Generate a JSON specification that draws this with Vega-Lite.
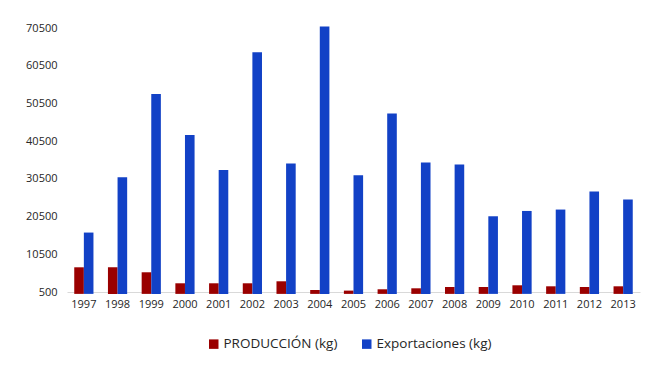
{
  "$schema": "https://vega.github.io/schema/vega-lite/v6.json",
  "width": 573,
  "height": 264,
  "autosize": {"type": "none"},
  "padding": {"left": 67, "top": 28, "right": 31, "bottom": 79},
  "background": "white",
  "data": {
    "values": [
      {"year": "1997", "serie": "PRODUCCIÓN (kg)", "kg": 7050},
      {"year": "1998", "serie": "PRODUCCIÓN (kg)", "kg": 7050},
      {"year": "1999", "serie": "PRODUCCIÓN (kg)", "kg": 5730},
      {"year": "2000", "serie": "PRODUCCIÓN (kg)", "kg": 2810},
      {"year": "2001", "serie": "PRODUCCIÓN (kg)", "kg": 2810},
      {"year": "2002", "serie": "PRODUCCIÓN (kg)", "kg": 2810},
      {"year": "2003", "serie": "PRODUCCIÓN (kg)", "kg": 3340},
      {"year": "2004", "serie": "PRODUCCIÓN (kg)", "kg": 1030},
      {"year": "2005", "serie": "PRODUCCIÓN (kg)", "kg": 870},
      {"year": "2006", "serie": "PRODUCCIÓN (kg)", "kg": 1220},
      {"year": "2007", "serie": "PRODUCCIÓN (kg)", "kg": 1480},
      {"year": "2008", "serie": "PRODUCCIÓN (kg)", "kg": 1830},
      {"year": "2009", "serie": "PRODUCCIÓN (kg)", "kg": 1830},
      {"year": "2010", "serie": "PRODUCCIÓN (kg)", "kg": 2280},
      {"year": "2011", "serie": "PRODUCCIÓN (kg)", "kg": 2010},
      {"year": "2012", "serie": "PRODUCCIÓN (kg)", "kg": 1830},
      {"year": "2013", "serie": "PRODUCCIÓN (kg)", "kg": 2010},
      {"year": "1997", "serie": "Exportaciones (kg)", "kg": 16260},
      {"year": "1998", "serie": "Exportaciones (kg)", "kg": 30920},
      {"year": "1999", "serie": "Exportaciones (kg)", "kg": 53020},
      {"year": "2000", "serie": "Exportaciones (kg)", "kg": 42140},
      {"year": "2001", "serie": "Exportaciones (kg)", "kg": 32860},
      {"year": "2002", "serie": "Exportaciones (kg)", "kg": 64080},
      {"year": "2003", "serie": "Exportaciones (kg)", "kg": 34560},
      {"year": "2004", "serie": "Exportaciones (kg)", "kg": 70900},
      {"year": "2005", "serie": "Exportaciones (kg)", "kg": 31450},
      {"year": "2006", "serie": "Exportaciones (kg)", "kg": 47820},
      {"year": "2007", "serie": "Exportaciones (kg)", "kg": 34820},
      {"year": "2008", "serie": "Exportaciones (kg)", "kg": 34290},
      {"year": "2009", "serie": "Exportaciones (kg)", "kg": 20580},
      {"year": "2010", "serie": "Exportaciones (kg)", "kg": 21990},
      {"year": "2011", "serie": "Exportaciones (kg)", "kg": 22360},
      {"year": "2012", "serie": "Exportaciones (kg)", "kg": 27130},
      {"year": "2013", "serie": "Exportaciones (kg)", "kg": 25010}
    ]
  },
  "mark": {"type": "bar", "clip": false},
  "encoding": {
    "x": {
      "field": "year",
      "type": "nominal",
      "title": null,
      "scale": {"paddingInner": 0.43, "paddingOuter": 0.215},
      "axis": {
        "labelAngle": 0,
        "labelFont": "Open Sans",
        "labelFontSize": 11,
        "labelColor": "#262626",
        "labelPadding": 6,
        "ticks": false,
        "domainColor": "#d9d9d9",
        "domainWidth": 1
      }
    },
    "xOffset": {"field": "serie", "type": "nominal", "sort": ["PRODUCCIÓN (kg)", "Exportaciones (kg)"], "scale": {"paddingInner": 0, "paddingOuter": 0}},
    "y": {
      "field": "kg",
      "type": "quantitative",
      "title": null,
      "scale": {"domain": [500, 70500], "nice": false, "zero": false},
      "axis": {
        "values": [500, 10500, 20500, 30500, 40500, 50500, 60500, 70500],
        "format": "d",
        "domain": false,
        "ticks": false,
        "grid": false,
        "labelFont": "Open Sans",
        "labelFontSize": 11,
        "labelColor": "#262626",
        "labelPadding": 10
      }
    },
    "color": {
      "field": "serie",
      "type": "nominal",
      "sort": ["PRODUCCIÓN (kg)", "Exportaciones (kg)"],
      "scale": {"domain": ["PRODUCCIÓN (kg)", "Exportaciones (kg)"], "range": ["#9a0000", "#1241c6"]},
      "legend": {
        "title": null,
        "orient": "none",
        "direction": "horizontal",
        "legendX": 140,
        "legendY": 309,
        "symbolType": "square",
        "symbolSize": 90,
        "symbolStrokeWidth": 0,
        "labelFont": "Open Sans",
        "labelFontSize": 13.5,
        "labelColor": "#262626",
        "labelOffset": 3,
        "columnPadding": 22
      }
    }
  },
  "config": {"view": {"stroke": null}}
}
